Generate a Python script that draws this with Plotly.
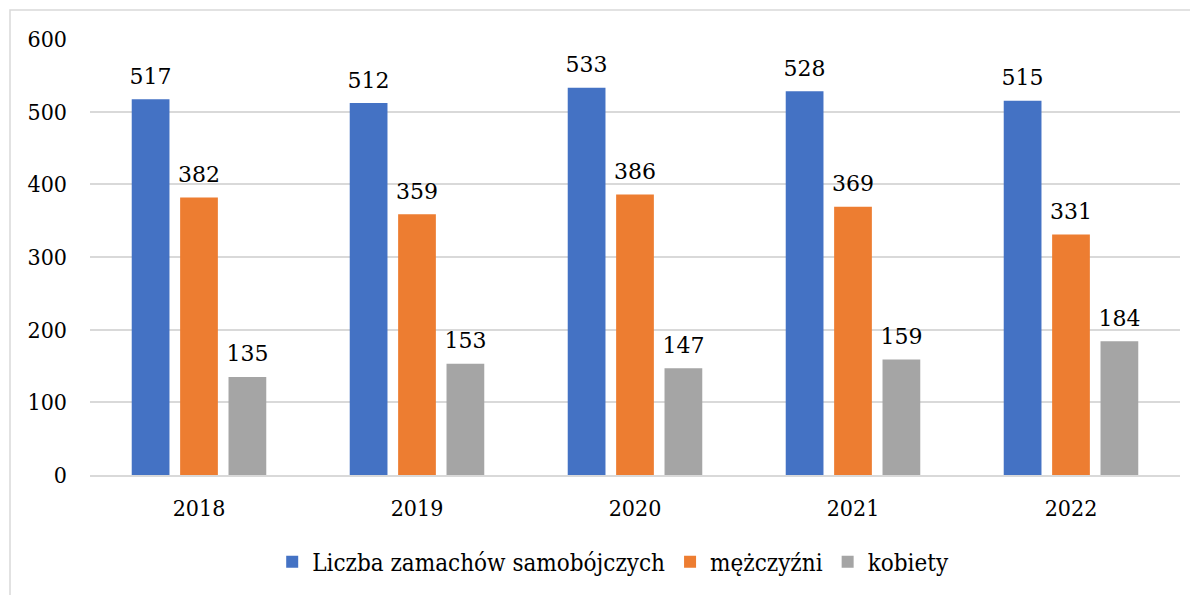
import plotly.graph_objects as go

years = ["2018", "2019", "2020", "2021", "2022"]
total = [517, 512, 533, 528, 515]
men = [382, 359, 386, 369, 331]
women = [135, 153, 147, 159, 184]
names = ["Liczba zamachów samobójczych", "mężczyźni", "kobiety"]
colors = ["#4472C4", "#ED7D31", "#A5A5A5"]

COND = "DejaVu Serif Condensed, DejaVu Serif"
SER = "DejaVu Serif"

fig = go.Figure()
for name, vals, col in zip(names, [total, men, women], colors):
    fig.add_trace(go.Bar(
        x=years, y=vals, name=name,
        marker=dict(color=col, line=dict(width=0)),
        text=[f"<span style='font-size:22px'>{v}</span><br> " for v in vals],
        textposition="outside", constraintext="none",
        textfont=dict(family=SER, size=8, color="#000000"),
        cliponaxis=False, hoverinfo="x+y+name",
    ))

# page is offset by an 8px body margin: plot area spans x 90..1180, y 39..475 on screen
fig.update_layout(
    width=1198, height=595,
    margin=dict(l=82, r=26, t=31, b=128),
    paper_bgcolor="white", plot_bgcolor="white",
    barmode="group", bargap=0.334, bargroupgap=0.22,
    font=dict(family=SER, size=22, color="#000000"),
    legend=dict(orientation="h", x=0.48, xanchor="center", y=-0.2, yanchor="middle",
                font=dict(family=COND, size=24), itemwidth=30),
    yaxis=dict(range=[0, 600], dtick=100, showgrid=True, gridcolor="#D9D9D9", gridwidth=1.5,
               zeroline=False, showline=False, ticks="", ticklabelstandoff=22,
               tickfont=dict(family=COND, size=23)),
    xaxis=dict(showline=True, linecolor="#D9D9D9", linewidth=1.5, ticks="",
               ticklabelstandoff=12, tickfont=dict(family=COND, size=23)),
    shapes=[dict(type="rect", xref="paper", yref="paper",
                 x0=(10 - 90) / 1090, x1=1.05, y0=-0.4, y1=(475 - 10) / 436,
                 line=dict(color="#D9D9D9", width=1.5), fillcolor="rgba(0,0,0,0)", layer="below")],
)

fig.write_html("out.html")
